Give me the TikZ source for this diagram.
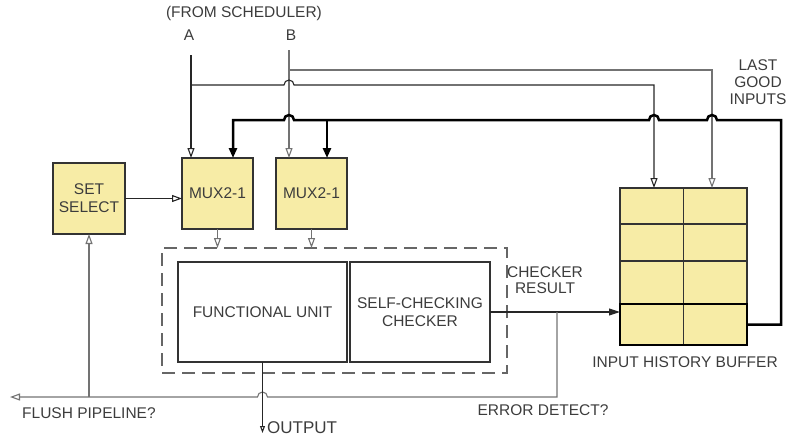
\documentclass[tikz,border=0pt]{standalone}
\usepackage{fontspec}
\setmainfont{Liberation Sans}
\usetikzlibrary{arrows.meta}
\definecolor{boxfill}{RGB}{247,236,166}
\definecolor{txtgray}{RGB}{60,60,60}
\tikzset{
  blk/.style={draw=black!80, line width=1.1, inner sep=0, outer sep=0},
  ybox/.style={blk, fill=boxfill, text=txtgray, align=center, font=\fontsize{15.5}{18}\selectfont, minimum width=71, minimum height=71},
  wbox/.style={blk, fill=white, text=txtgray, align=center, font=\fontsize{15.5}{18}\selectfont, minimum height=100},
  dashbox/.style={draw=black!60, line width=1.2, dash pattern=on 13pt off 7pt, inner sep=0, outer sep=0},
  thickbox/.style={draw=black, line width=2.6, inner sep=0, outer sep=0},
  lbl/.style={text=txtgray, font=\fontsize{15.5}{17}\selectfont, align=center, inner sep=0},
  dk/.style={draw=black!85, line width=1.1},
  gr/.style={draw=black!55, line width=1.1},
  thk/.style={draw=black, line width=2.5},
  openarr/.style={-{Triangle[open, length=10pt, width=7pt]}},
  smallarr/.style={-{Triangle[open, length=7pt, width=5pt]}},
  fillarr/.style={-{Triangle[length=10pt, width=8pt]}},
  resarr/.style={-{Triangle[length=11pt, width=7pt]}}
}
\begin{document}
\begin{tikzpicture}[x=1pt, y=1pt]
\useasboundingbox (0,0) rectangle (788,-439);

% blocks
\node[ybox, minimum width=72] (setsel) at (89,-198.5) {SET\\SELECT};
\node[ybox] (mux1) at (217.5,-193.5) {MUX2-1};
\node[ybox] (mux2) at (311.5,-193.5) {MUX2-1};
\node[dashbox, minimum width=345, minimum height=125] (core) at (334.5,-310.5) {};
\node[wbox, minimum width=169] (fu) at (262.5,-312) {FUNCTIONAL UNIT};
\node[wbox, minimum width=140] (chk) at (420,-312) {SELF-CHECKING\\CHECKER};

% input history buffer
\node[blk, fill=boxfill, minimum width=127, minimum height=157] (buf) at (683.5,-266.5) {};
\draw[blk] (buf.north) -- (buf.south);
\draw[blk] (buf.west |- 0,-224) -- (buf.east |- 0,-224);
\draw[blk] (buf.west |- 0,-261) -- (buf.east |- 0,-261);
\node[thickbox, minimum width=127, minimum height=41] (last) at (683.5,-324.5) {};

% labels
\node[lbl, anchor=base] (sched) at (244,-17) {(FROM SCHEDULER)};
\node[lbl, anchor=base] (la) at (189,-40) {A};
\node[lbl, anchor=base] (lb) at (291,-40) {B};
\node[lbl] (lgi) at (758,-82) {LAST\\GOOD\\INPUTS};
\node[lbl, font=\fontsize{15.5}{16}\selectfont] (cres) at (545,-280) {CHECKER\\RESULT};
\node[lbl] (ihb) at (685,-362) {INPUT HISTORY BUFFER};
\node[lbl, anchor=west] (flush) at (22,-413) {FLUSH PIPELINE?};
\node[lbl] (edet) at (543,-410) {ERROR DETECT?};
\node[lbl, anchor=west, font=\fontsize{17}{19}\selectfont] (out) at (267,-428) {OUTPUT};

% scheduler inputs
\coordinate (aTop) at (191,-55);
\coordinate (bTop) at (289,-50);
\draw[dk, openarr] (aTop) -- (aTop |- mux1.north);
\draw[gr, openarr] (bTop) -- (bTop |- mux2.north);
\draw[dk, openarr] (aTop |- 0,-85) -- (284,-85) arc[start angle=180, end angle=0, radius=5] -- (654,-85) -- (654,-85 |- buf.north);
\draw[gr, openarr] (bTop |- 0,-70) -- (712,-70) -- (712,-70 |- buf.north);

% last good inputs
\draw[thk, fillarr] (last.east) -| (781,-120) -- (717,-120)
  arc[start angle=0, end angle=180, radius=5] -- (659,-120)
  arc[start angle=0, end angle=180, radius=5] -- (294,-120)
  arc[start angle=0, end angle=180, radius=5] -- (233,-120) -- (233,-120 |- mux1.north);
\draw[thk, fillarr] (327,-120) -- (327,-120 |- mux2.north);

% datapath
\draw[dk, openarr] (setsel.east) -- (setsel.east -| mux1.west);
\draw[gr, openarr] (mux1.south) -- (mux1.south |- core.north);
\draw[gr, openarr] (mux2.south) -- (mux2.south |- core.north);
\draw[dk, resarr] (chk.east) -- (chk.east -| last.west);
\draw[gr, openarr] (chk.east -| 557,0) |- (267.5,-397)
  arc[start angle=0, end angle=180, radius=5] -- (10,-397);
\draw[gr, openarr] (setsel.south |- 0,-397) -- (setsel.south);
\draw[dk, smallarr] (fu.south) -- (fu.south |- 0,-433);
\end{tikzpicture}
\end{document}
